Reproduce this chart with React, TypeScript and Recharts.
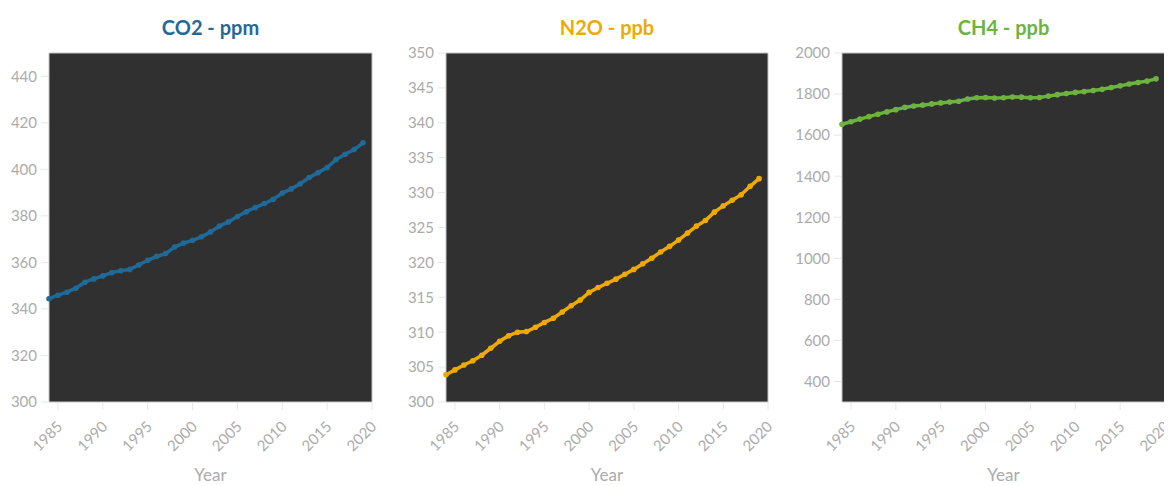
import React from 'react';
import { LineChart, Line, XAxis, YAxis, CartesianGrid, ReferenceArea } from 'recharts';

const years = [1984,1985,1986,1987,1988,1989,1990,1991,1992,1993,1994,1995,1996,1997,1998,1999,2000,2001,2002,2003,2004,2005,2006,2007,2008,2009,2010,2011,2012,2013,2014,2015,2016,2017,2018,2019];

const co2 = [344.4,345.9,347.2,348.9,351.5,352.9,354.2,355.6,356.4,357.0,358.9,360.9,362.6,363.8,366.6,368.3,369.5,371.0,373.1,375.6,377.4,379.7,381.8,383.6,385.3,387.1,389.8,391.6,393.8,396.5,398.6,400.8,404.2,406.5,408.5,411.4];

const n2o = [303.9,304.6,305.3,305.9,306.7,307.7,308.7,309.5,310.0,310.1,310.7,311.4,312.0,312.9,313.8,314.6,315.7,316.4,317.0,317.6,318.3,319.0,319.8,320.6,321.5,322.3,323.2,324.2,325.2,326.0,327.2,328.1,328.9,329.7,330.9,332.0];

const ch4 = [1653,1665,1678,1690,1702,1713,1724,1735,1742,1746,1752,1757,1761,1765,1776,1782,1783,1781,1782,1786,1785,1782,1783,1790,1797,1803,1808,1812,1817,1823,1832,1840,1849,1856,1863,1874];

const xTicks = [1985,1990,1995,2000,2005,2010,2015,2020];
const co2Ticks = [300,320,340,360,380,400,420,440];
const n2oTicks = [300,305,310,315,320,325,330,335,340,345,350];
const ch4Ticks = [400,600,800,1000,1200,1400,1600,1800,2000];

const FONT = 'Lato, "Open Sans", sans-serif';
const GREY = '#ababab';

const XTick = (props: any) => {
  const { x, y, payload } = props;
  return (
    <g transform={`translate(${x - 2},${y + 8})`}>
      <text x={0} y={0} dy="0.71em" textAnchor="end" fill={GREY} fontSize={15} fontFamily={FONT} transform="rotate(-45)">
        {payload.value}
      </text>
    </g>
  );
};

type PanelProps = {
  title: string;
  color: string;
  values: number[];
  domain: [number, number];
  ticks: number[];
  width: number;
  axisWidth: number;
  marginRight: number;
};

const Panel = ({ title, color, values, domain, ticks, width, axisWidth, marginRight }: PanelProps) => {
  const data = years.map((yr, i) => ({ year: yr, v: values[i] }));
  const plotCenter = axisWidth + (width - axisWidth - marginRight) / 2;
  return (
    <div style={{ position: 'relative', width, height: 478, flex: 'none' }}>
      <div
        style={{
          position: 'absolute',
          top: 7,
          left: plotCenter - 150,
          width: 300,
          textAlign: 'center',
          fontFamily: FONT,
          fontWeight: 700,
          fontSize: 20,
          lineHeight: '24px',
          color,
        }}
      >
        {title}
      </div>
      <LineChart width={width} height={478} data={data} margin={{ top: 45, right: marginRight, left: 0, bottom: 0 }}>
        <CartesianGrid horizontal={false} vertical={false} fill="#303030" fillOpacity={1} />
        <XAxis
          dataKey="year"
          type="number"
          domain={[1984, 2020]}
          ticks={xTicks}
          height={84}
          tickSize={8}
          tickMargin={2}
          axisLine={false}
          tickLine={{ stroke: '#e6e6e6' }}
          tick={<XTick />}
          interval={0}
          label={{ value: 'Year', position: 'insideBottom', offset: 5, fill: GREY, fontSize: 17, fontFamily: FONT }}
        />
        <YAxis
          type="number"
          domain={domain}
          ticks={ticks}
          width={axisWidth}
          tickSize={8}
          tickMargin={4}
          axisLine={false}
          tickLine={{ stroke: '#e6e6e6' }}
          tick={{ fill: GREY, fontSize: 15, fontFamily: FONT }}
          interval={0}
        />
        <ReferenceArea x1={1984} x2={2020} y1={domain[0]} y2={domain[1]} fill="none" stroke="#c4c4c4" strokeWidth={1} />
        <Line
          type="linear"
          dataKey="v"
          stroke={color}
          strokeWidth={3.5}
          dot={{ r: 2.8, fill: color, stroke: color, strokeWidth: 0 }}
          isAnimationActive={false}
        />
      </LineChart>
    </div>
  );
}

export default function App() {
  return (
    <div style={{ display: 'flex', width: 1164, overflow: 'hidden', fontFamily: FONT }}>
      <Panel title="CO2 - ppm" color="#1f6a98" values={co2} domain={[300, 450]} ticks={co2Ticks} width={397} axisWidth={41} marginRight={33} />
      <Panel title="N2O - ppb" color="#eeaa00" values={n2o} domain={[300, 350]} ticks={n2oTicks} width={387} axisWidth={41} marginRight={24} />
      <Panel title="CH4 - ppb" color="#6db33f" values={ch4} domain={[300, 2000]} ticks={ch4Ticks} width={380} axisWidth={50} marginRight={7} />
    </div>
  );
}
